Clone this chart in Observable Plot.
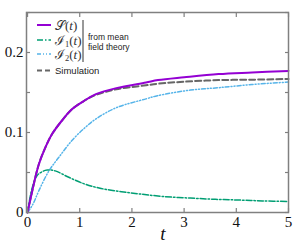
<!DOCTYPE html>
<html><head><meta charset="utf-8">
<script src="https://cdn.jsdelivr.net/npm/d3@7"></script>
<script src="https://cdn.jsdelivr.net/npm/@observablehq/plot@0.6"></script>
<style>body{margin:0;background:#fff}</style>
</head><body><div id="chart"></div>
<script>
const tS = [0,0.09,0.215,0.34,0.47,0.66,0.85,1.07,1.31,1.7,2.27,2.5,3.0,3.66,4.3,5];
const vS = [0,0.027,0.06,0.081,0.098,0.115,0.129,0.139,0.148,0.1555,0.1625,0.1655,0.169,0.173,0.175,0.177];
const tI1 = [0,0.04,0.09,0.18,0.28,0.375,0.53,0.79,1.1,1.41,1.8,2.17,2.6,3.12,3.6,4.08,4.5,5];
const vI1 = [0,0.016,0.031,0.046,0.051,0.053,0.052,0.044,0.0355,0.030,0.026,0.023,0.020,0.018,0.0165,0.0155,0.0145,0.0138];
const tI2 = [0,0.1,0.215,0.41,0.6,0.85,1.1,1.31,1.7,2.27,2.49,3.12,3.66,4.3,5];
const vI2 = [0,0.01,0.027,0.052,0.069,0.09,0.106,0.117,0.131,0.142,0.146,0.153,0.156,0.160,0.163];
const tSim = [0,0.09,0.215,0.34,0.47,0.66,0.85,1.07,1.31,1.7,2.27,2.5,3.0,3.66,4.3,5];
const vSim = [0,0.027,0.06,0.081,0.098,0.115,0.129,0.139,0.147,0.154,0.159,0.161,0.1635,0.1655,0.166,0.167];
const xTicks = [0,1,2,3,4,5];
const yTicks = [0,0.05,0.1,0.15,0.2,0.25];
const yLabels = [0,0.1,0.2];

const zip = (t,v) => t.map((x,i)=>({t:x,v:v[i]}));
const frameColor = "#808080";
const serif = "Liberation Serif, Times New Roman, serif";
const sans = "Liberation Sans, Arial, sans-serif";

const plot = Plot.plot({
  width: 307, height: 245,
  marginLeft: 26, marginRight: 19, marginTop: 12, marginBottom: 33,
  x: {domain: [-0.02, 5]},
  y: {domain: [0, 0.25]},
  style: {fontFamily: serif, background: "white"},
  marks: [
    Plot.line(zip(tSim,vSim), {x:"t", y:"v", stroke:"#666", strokeWidth:2, strokeDasharray:"6,3", curve:"catmull-rom"}),
    Plot.line(zip(tI2,vI2), {x:"t", y:"v", stroke:"#56B4E9", strokeWidth:1.5, strokeDasharray:"4,2,1,2,1,2", curve:"catmull-rom"}),
    Plot.line(zip(tI1,vI1), {x:"t", y:"v", stroke:"#009E73", strokeWidth:1.5, strokeDasharray:"6,2,1.5,2", curve:"catmull-rom"}),
    Plot.line(zip(tS,vS), {x:"t", y:"v", stroke:"#9400D3", strokeWidth:2, curve:"catmull-rom"}),
    Plot.axisX(xTicks, {anchor:"bottom", tickSize:-4, text:null, stroke:frameColor, strokeWidth:1.2, label:null}),
    Plot.axisX(xTicks, {anchor:"top", tickSize:-4, text:null, stroke:frameColor, strokeWidth:1.2, label:null}),
    Plot.axisY(yTicks, {anchor:"left", tickSize:-4, text:null, stroke:frameColor, strokeWidth:1.2, label:null}),
    Plot.axisY(yTicks, {anchor:"right", tickSize:-4, text:null, stroke:frameColor, strokeWidth:1.2, label:null}),
    Plot.axisX(xTicks, {anchor:"bottom", tickSize:0, tickPadding:4, fontSize:15, fill:"#111", label:null, tickFormat: d=>String(d)}),
    Plot.axisY(yLabels, {anchor:"left", tickSize:0, tickPadding:3, fontSize:15, fill:"#111", label:null, tickFormat: d=>String(d)}),
    Plot.frame({stroke:frameColor, strokeWidth:1.5})
  ]
});
document.getElementById("chart").appendChild(plot);

const svg = d3.select(plot);
svg.append("text").attr("x",163).attr("y",240).attr("text-anchor","middle")
  .attr("font-family",serif).attr("font-style","italic").attr("font-size",19).attr("fill","#111").text("t");

const lg = svg.append("g").attr("text-anchor","start");
const rows = [
  {y:25, color:"#9400D3", w:2, dash:null, sym:"𝒮", sub:null},
  {y:40, color:"#009E73", w:1.5, dash:"6,2,1.5,2", sym:"ℐ", sub:"1"},
  {y:54, color:"#56B4E9", w:1.5, dash:"4,2,1,2,1,2", sym:"ℐ", sub:"2"},
  {y:70.5, color:"#666", w:2, dash:"5,3", text:"Simulation"}
];
rows.forEach(r => {
  lg.append("line").attr("x1",37).attr("x2",51).attr("y1",r.y).attr("y2",r.y)
    .attr("stroke",r.color).attr("stroke-width",r.w).attr("stroke-dasharray",r.dash);
  if (r.text) {
    lg.append("text").attr("x",55).attr("y",r.y).attr("dy","0.35em")
      .attr("font-family",sans).attr("font-size",9.5).attr("fill","#222").text(r.text);
  } else {
    const t = lg.append("text").attr("x",55).attr("y",r.y+4.5)
      .attr("font-family",serif).attr("font-size",13).attr("fill","#333");
    t.append("tspan").text(r.sym);
    if (r.sub) {
      t.append("tspan").attr("font-size",8.5).attr("dy",2.5).text(r.sub);
      t.append("tspan").attr("dy",-2.5).text("(");
    } else {
      t.append("tspan").text("(");
    }
    t.append("tspan").attr("font-style","italic").text("t");
    t.append("tspan").text(")");
  }
});
lg.append("line").attr("x1",83).attr("x2",83).attr("y1",20).attr("y2",62).attr("stroke","#333").attr("stroke-width",1);
lg.append("text").attr("x",88).attr("y",37).attr("dy","0.35em").attr("font-family",sans).attr("font-size",8.5).attr("fill","#222").text("from mean");
lg.append("text").attr("x",88).attr("y",47).attr("dy","0.35em").attr("font-family",sans).attr("font-size",8.5).attr("fill","#222").text("field theory");
</script></body></html>
